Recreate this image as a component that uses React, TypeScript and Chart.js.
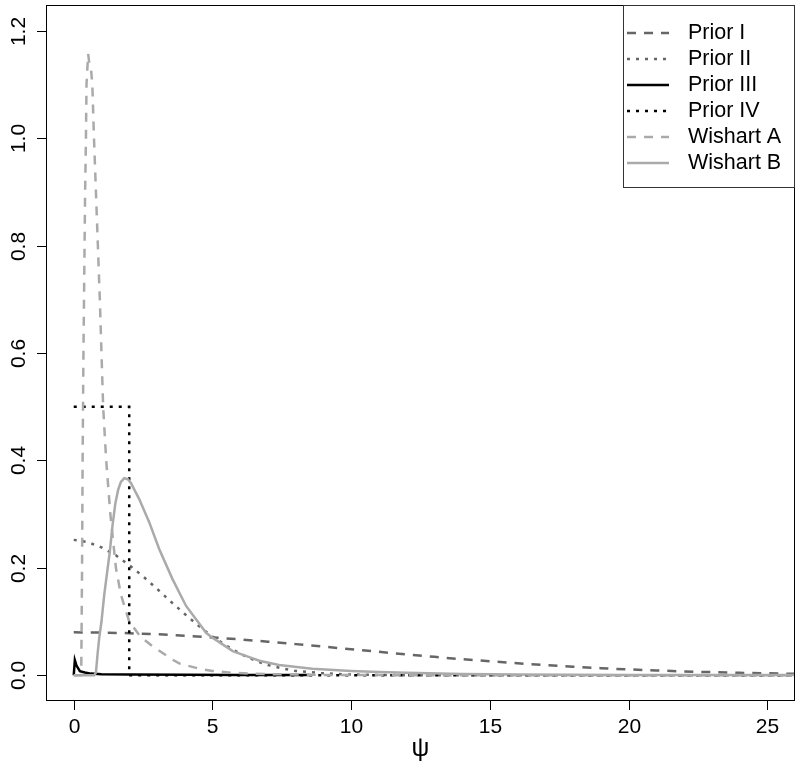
import React, { useEffect, useRef } from "react";
import { Chart, registerables } from "chart.js";

Chart.register(...registerables);

// ---- data ----
const xTicks = [0, 5, 10, 15, 20, 25];
const yTicks = [0, 0.2, 0.4, 0.6, 0.8, 1.0, 1.2];
const yTickLabels = ["0.0", "0.2", "0.4", "0.6", "0.8", "1.0", "1.2"];
const xTitle = "ψ";
const seriesNames = ["Prior I", "Prior II", "Prior III", "Prior IV", "Wishart A", "Wishart B"];

const priorIX = [0, 1, 2, 3, 4, 5, 6, 7, 8, 9, 10, 11, 12, 13, 14, 15, 16, 17, 18, 19, 20, 21, 22, 23, 24, 25, 26];
const priorIY = [0.0798, 0.0794, 0.0782, 0.0763, 0.0736, 0.0704, 0.0667, 0.0625, 0.0579, 0.0532, 0.0484, 0.0436, 0.0388, 0.0342, 0.0299, 0.0259, 0.0222, 0.0189, 0.0158, 0.0131, 0.0108, 0.0088, 0.0071, 0.0057, 0.0045, 0.0035, 0.0027];

const priorIIX = [0, 0.5, 1, 1.5, 2, 2.5, 3, 3.5, 4, 4.5, 5, 5.5, 6, 6.5, 7, 7.5, 8, 9, 10, 11, 12, 26];
const priorIIY = [0.252, 0.248, 0.238, 0.224, 0.205, 0.184, 0.161, 0.137, 0.114, 0.092, 0.072, 0.055, 0.04, 0.028, 0.019, 0.013, 0.008, 0.0035, 0.0013, 0.0004, 0.0001, 0];

const priorIIIX = [0, 0.04, 0.1, 0.22, 0.4, 0.62, 1, 2, 4, 6, 8.5];
const priorIIIY = [0, 0.028, 0.018, 0.0075, 0.005, 0.003, 0.002, 0.0012, 0.0007, 0.0004, 0.0003];

const priorIVX = [0, 2, 2, 26];
const priorIVY = [0.5, 0.5, 0, 0];

const wishartAX = [0, 0.27, 0.3, 0.32, 0.35, 0.39, 0.41, 0.44, 0.46, 0.52, 0.57, 0.62, 0.67, 0.73, 0.8, 0.87, 0.94, 1.0, 1.06, 1.17, 1.32, 1.52, 1.7, 2.0, 2.4, 2.84, 3.56, 3.8, 4.53, 5.0, 5.72, 7, 9, 12, 26];
const wishartAY = [0, 0, 0.2, 0.4, 0.6, 0.8, 0.9, 1.0, 1.1, 1.157, 1.135, 1.13, 1.1, 1.0, 0.9, 0.8, 0.7, 0.6, 0.5, 0.4, 0.3, 0.2, 0.15, 0.1, 0.072, 0.054, 0.029, 0.022, 0.012, 0.008, 0.0045, 0.002, 0.0005, 0.0001, 0];

const wishartBX = [0, 0.74, 0.8, 0.86, 0.92, 1.0, 1.1, 1.2, 1.3, 1.4, 1.5, 1.6, 1.7, 1.82, 1.95, 2.06, 2.36, 2.72, 3.08, 3.56, 4.05, 4.77, 5.0, 5.73, 6.2, 6.69, 7.4, 8.6, 10, 11, 12, 14, 16, 20, 26];
const wishartBY = [0, 0, 0.005, 0.04, 0.07, 0.1, 0.15, 0.19, 0.23, 0.28, 0.32, 0.345, 0.36, 0.367, 0.365, 0.358, 0.328, 0.285, 0.235, 0.179, 0.129, 0.079, 0.07, 0.045, 0.036, 0.027, 0.019, 0.012, 0.008, 0.006, 0.0045, 0.0025, 0.0014, 0.0005, 0.0002];

// ---- styles ----
const lineColors = ["#666666", "#666666", "#000000", "#000000", "#aaaaaa", "#aaaaaa"];
const lineDashes: number[][] = [[9, 8], [3, 6], [], [3, 6], [9, 8], []];
const lineWidths = [2.5, 2.5, 2.5, 2.5, 2.5, 2.5];

const FONT = "Arial, 'Liberation Sans', sans-serif";

function toPoints(xs: number[], ys: number[]) {
  return xs.map((x, i) => ({ x, y: ys[i] }));
}

const rFramePlugin = {
  id: "rFrame",
  afterDraw(chart: any) {
    const { ctx, chartArea: a, scales } = chart;
    const xs = scales.x;
    const ys = scales.y;
    ctx.save();
    ctx.strokeStyle = "#000";
    ctx.lineWidth = 1;
    ctx.setLineDash([]);
    // box
    ctx.strokeRect(a.left + 0.5, a.top + 0.5, a.right - a.left - 1, a.bottom - a.top - 1);

    // x axis ticks + labels
    ctx.fillStyle = "#000";
    ctx.font = `21px ${FONT}`;
    ctx.textAlign = "center";
    ctx.textBaseline = "middle";
    for (const t of xTicks) {
      const px = Math.round(xs.getPixelForValue(t)) + 0.5;
      ctx.beginPath();
      ctx.moveTo(px, a.bottom);
      ctx.lineTo(px, a.bottom + 9);
      ctx.stroke();
      ctx.fillText(String(t), px, a.bottom + 26);
    }
    // y axis ticks + labels
    yTicks.forEach((t, i) => {
      const py = Math.round(ys.getPixelForValue(t)) + 0.5;
      ctx.beginPath();
      ctx.moveTo(a.left, py);
      ctx.lineTo(a.left - 9, py);
      ctx.stroke();
      ctx.save();
      ctx.translate(19, py);
      ctx.rotate(-Math.PI / 2);
      ctx.fillText(yTickLabels[i], 0, 0);
      ctx.restore();
    });
    // x title
    ctx.font = `25px ${FONT}`;
    ctx.fillText(xTitle, (a.left + a.right) / 2, a.bottom + 48);

    // legend
    const lw = 172;
    const lh = 183;
    const lx = a.right - lw;
    const ly = a.top;
    ctx.fillStyle = "#fff";
    ctx.fillRect(lx, ly, lw, lh);
    ctx.strokeStyle = "#333";
    ctx.strokeRect(lx + 0.5, ly + 0.5, lw - 1, lh - 1);
    ctx.font = `21.5px ${FONT}`;
    ctx.textAlign = "left";
    seriesNames.forEach((name, i) => {
      const y = ly + 28 + 26 * i;
      ctx.strokeStyle = lineColors[i];
      ctx.lineWidth = lineWidths[i];
      ctx.setLineDash(lineDashes[i]);
      ctx.beginPath();
      ctx.moveTo(lx + 4, y);
      ctx.lineTo(lx + 46, y);
      ctx.stroke();
      ctx.fillStyle = "#000";
      ctx.fillText(name, lx + 65, y);
    });
    ctx.restore();
  },
};

export default function App() {
  const ref = useRef<HTMLCanvasElement | null>(null);
  useEffect(() => {
    if (!ref.current) return;
    const seriesX = [priorIX, priorIIX, priorIIIX, priorIVX, wishartAX, wishartBX];
    const seriesY = [priorIY, priorIIY, priorIIIY, priorIVY, wishartAY, wishartBY];
    const datasets = seriesNames.map((name, i) => ({
      label: name,
      data: toPoints(seriesX[i], seriesY[i]),
      borderColor: lineColors[i],
      borderWidth: lineWidths[i],
      borderDash: lineDashes[i],
      pointRadius: 0,
      tension: 0,
      fill: false,
      order: seriesNames.length - i,
    }));
    const chart = new Chart(ref.current, {
      type: "line",
      data: { datasets },
      options: {
        animation: false,
        responsive: false,
        parsing: true,
        layout: { padding: { left: 46, right: 5, top: 5, bottom: 72 } },
        scales: {
          x: { type: "linear", min: -1, max: 26, display: false },
          y: { type: "linear", min: -0.048, max: 1.248, display: false },
        },
        plugins: { legend: { display: false }, tooltip: { enabled: false } },
      },
      plugins: [rFramePlugin],
    } as any);
    return () => chart.destroy();
  }, []);
  return (
    <div style={{ position: "absolute", left: 0, top: 0, width: 800, height: 773, background: "#fff" }}>
      <canvas ref={ref} width={800} height={773} />
    </div>
  );
}
